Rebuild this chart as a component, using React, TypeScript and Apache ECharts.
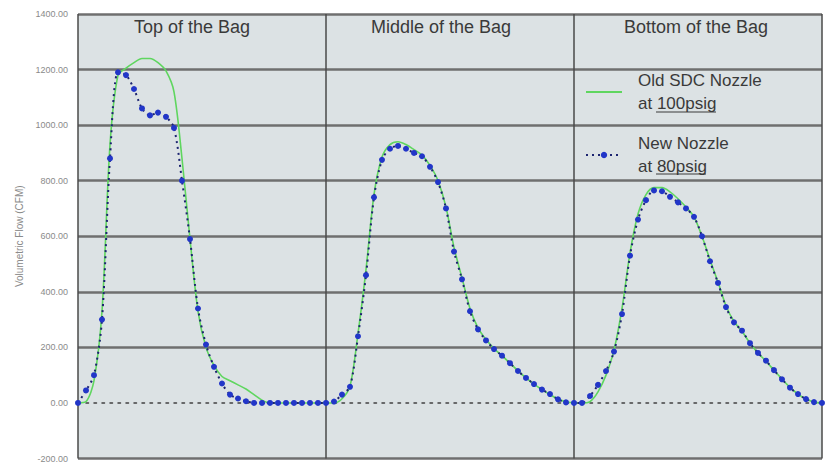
import React, { useEffect, useRef } from "react";
import * as echarts from "echarts";

const FONT = '"Liberation Sans", Arial, sans-serif';

// sample index labels (time steps); panel boundaries every 31 steps
const SAMPLES_PER_PANEL = 31;
const panelTitles = ["Top of the Bag", "Middle of the Bag", "Bottom of the Bag"];
const yTicks = [-200, 0, 200, 400, 600, 800, 1000, 1200, 1400];

// Old SDC Nozzle at 100psig (CFM)
const oldTop = [0, 5, 80, 330, 930, 1180, 1205, 1225, 1240, 1240, 1225, 1195, 1120, 880, 590, 330, 200, 135, 95, 80, 65, 50, 30, 10, 0, 0, 0, 0, 0, 0, 0];
const oldMiddle = [0, 0, 15, 60, 250, 480, 750, 885, 930, 940, 930, 912, 892, 855, 800, 705, 560, 450, 340, 270, 228, 196, 170, 143, 116, 90, 68, 48, 30, 14, 4];
const oldBottom = [0, 0, 5, 40, 100, 190, 340, 540, 680, 750, 775, 775, 760, 735, 705, 670, 600, 515, 435, 350, 293, 258, 215, 180, 150, 118, 86, 56, 32, 14, 3, 0];

// New Nozzle at 80psig (CFM)
const newTop = [0, 45, 100, 300, 880, 1190, 1180, 1130, 1060, 1035, 1045, 1030, 990, 800, 590, 340, 210, 130, 70, 30, 16, 6, 0, 0, 0, 0, 0, 0, 0, 0, 0];
const newMiddle = [0, 5, 30, 58, 240, 460, 740, 875, 915, 925, 915, 900, 888, 850, 795, 700, 545, 445, 330, 265, 225, 194, 170, 143, 115, 90, 68, 48, 32, 13, 2];
const newBottom = [0, 0, 25, 65, 115, 185, 320, 530, 660, 730, 765, 762, 742, 722, 700, 670, 600, 510, 432, 345, 290, 260, 215, 180, 152, 118, 85, 55, 32, 14, 3, 0];

const seriesNames = ["Old SDC Nozzle at 100psig", "New Nozzle at 80psig"];

export default function App() {
  const ref = useRef<HTMLDivElement>(null);

  useEffect(() => {
    if (!ref.current) return;
    const chart = echarts.init(ref.current, null, { renderer: "svg" });
    const oldData = [...oldTop, ...oldMiddle, ...oldBottom];
    const newData = [...newTop, ...newMiddle, ...newBottom];
    const categories = oldData.map((_, i) => String(i));

    const gridColor = "#6f6f6f";
    const splitColors = yTicks.map((v) => (v === 0 ? "rgba(0,0,0,0)" : gridColor));

    const titleX = [192, 441, 696];

    chart.setOption({
      animation: false,
      backgroundColor: "#ffffff",
      grid: {
        left: 78,
        right: 7,
        top: 14,
        bottom: 2,
        show: true,
        backgroundColor: "#dce2e4",
        borderWidth: 0,
      },
      legend: {
        orient: "vertical",
        left: 580,
        top: 64,
        itemWidth: 36,
        itemHeight: 8,
        itemGap: 17,
        data: [
          { name: seriesNames[0], itemStyle: { color: "rgba(0,0,0,0)", borderWidth: 0 } },
          { name: seriesNames[1] },
        ],
        formatter: (name: string) => name.replace(" at ", "\nat "),
        textStyle: {
          fontFamily: FONT,
          fontSize: 17,
          color: "#3a3a3a",
          lineHeight: 23,
          padding: [0, 0, 0, 11],
        },
      },
      xAxis: {
        type: "category",
        data: categories,
        boundaryGap: false,
        axisLine: {
          show: true,
          onZero: true,
          lineStyle: { color: "#404040", width: 1.5, type: [2.5, 5.5] },
        },
        axisTick: { show: false },
        axisLabel: { show: false },
        splitLine: {
          show: true,
          interval: (index: number) => index % SAMPLES_PER_PANEL === 0,
          lineStyle: { color: "#4a4a4a", width: 1.5 },
        },
      },
      yAxis: {
        type: "value",
        min: -200,
        max: 1400,
        interval: 200,
        name: "Volumetric Flow (CFM)",
        nameLocation: "middle",
        nameGap: 54,
        nameTextStyle: { fontFamily: FONT, fontSize: 10, color: "#8a8a8a" },
        axisLine: { show: false },
        axisTick: { show: false },
        axisLabel: {
          margin: 10,
          fontFamily: FONT,
          fontSize: 9,
          color: "#8a8a8a",
          formatter: (v: number) => v.toFixed(2),
        },
        splitLine: {
          show: true,
          lineStyle: { color: splitColors, width: 2.5 },
        },
      },
      graphic: [
        ...panelTitles.map((t, i) => ({
          type: "text",
          x: titleX[i],
          y: 27,
          style: {
            text: t,
            fontFamily: FONT,
            fontSize: 18,
            fill: "#3a3a3a",
            align: "center",
            verticalAlign: "middle",
            textAlign: "center",
            textVerticalAlign: "middle",
          },
        })),
        {
          type: "line",
          shape: { x1: 656, y1: 112, x2: 716, y2: 112 },
          style: { stroke: "#3a3a3a", lineWidth: 1 },
        },
        {
          type: "line",
          shape: { x1: 656, y1: 174, x2: 706, y2: 174 },
          style: { stroke: "#3a3a3a", lineWidth: 1 },
        },
      ],
      series: [
        {
          name: seriesNames[0],
          type: "line",
          data: oldData,
          smooth: 0.3,
          showSymbol: false,
          symbol: "none",
          lineStyle: { color: "#5fd65f", width: 1.6 },
          itemStyle: { color: "#5fd65f" },
          z: 2,
        },
        {
          name: seriesNames[1],
          type: "line",
          data: newData,
          smooth: 0.3,
          symbol: "circle",
          symbolSize: 6,
          showSymbol: true,
          showAllSymbol: true,
          lineStyle: { color: "#1c2470", width: 2, type: [2, 4] },
          itemStyle: { color: "#2236c8" },
          z: 3,
        },
      ],
    });

    return () => chart.dispose();
  }, []);

  return (
    <div
      ref={ref}
      style={{ position: "fixed", left: 0, top: 0, width: 829, height: 463, background: "#fff" }}
    />
  );
}
